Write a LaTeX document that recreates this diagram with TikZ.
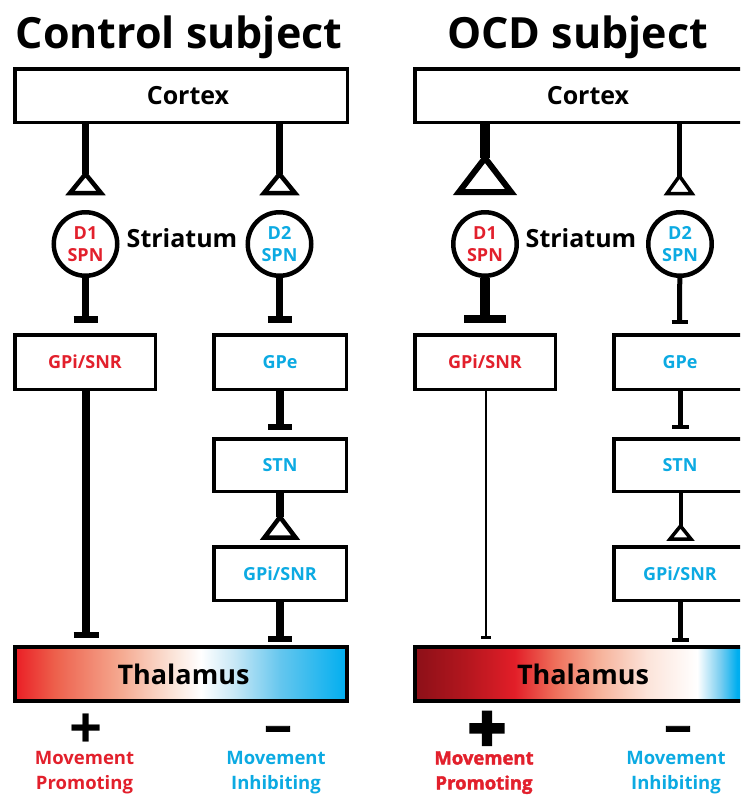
\documentclass[tikz,border=0pt]{standalone}
\usepackage{fontspec}
\setmainfont{Open Sans}
\newfontfamily\heavyfont[FakeBold=2]{Open Sans}
\newfontfamily\heavierfont[FakeBold=5]{Open Sans}
\definecolor{myred}{RGB}{226,32,44}
\definecolor{myblue}{RGB}{12,170,226}
\definecolor{lA}{RGB}{234,30,37}
\definecolor{lB}{RGB}{237,96,76}
\definecolor{lC}{RGB}{245,170,145}
\definecolor{lD}{RGB}{251,226,214}
\definecolor{lE}{RGB}{200,232,246}
\definecolor{lF}{RGB}{100,198,238}
\definecolor{lG}{RGB}{0,174,239}
\definecolor{rA}{RGB}{140,16,24}
\definecolor{rB}{RGB}{178,22,30}
\definecolor{rC}{RGB}{226,30,40}
\definecolor{rD}{RGB}{238,110,90}
\definecolor{rE}{RGB}{246,176,152}
\definecolor{rF}{RGB}{252,228,218}
\definecolor{rG}{RGB}{120,205,240}
\pgfdeclarehorizontalshading{thalLsh}{100bp}{color(0bp)=(lA); color(25bp)=(lA); color(31bp)=(lB); color(41bp)=(lC); color(48.5bp)=(lD); color(53bp)=(white); color(58bp)=(lE); color(65bp)=(lF); color(75bp)=(lG); color(100bp)=(lG)}
\pgfdeclarehorizontalshading{thalRsh}{100bp}{color(0bp)=(rA); color(25bp)=(rA); color(32.5bp)=(rB); color(40bp)=(rC); color(46bp)=(rD); color(52.5bp)=(rE); color(60bp)=(rF); color(67.5bp)=(white); color(71bp)=(rG); color(73.5bp)=(lG); color(100bp)=(lG)}
\begin{document}
\begin{tikzpicture}[x=1pt,y=-1pt,
  every node/.style={inner sep=0pt},
  title/.style={font=\bfseries\fontsize{43}{50}\selectfont},
  box/.style={draw, line width=3.5pt, text height=13pt, text depth=0pt, font=\bfseries\fontsize{18}{22}\selectfont},
  bigbox/.style={draw, line width=3.5pt, minimum width=332.5pt, minimum height=53.5pt, text height=18pt, text depth=0pt, font=\bfseries\fontsize{25}{30}\selectfont},
  circ/.style={draw, circle, line width=4.5pt, minimum size=63.5pt, align=center, font=\bfseries\fontsize{18}{22}\selectfont},
  stri/.style={font=\bfseries\fontsize{25}{30}\selectfont, anchor=base},
  thal/.style={draw, line width=4pt, shade, minimum width=332pt, minimum height=54pt, text height=20pt, text depth=0pt, font=\bfseries\fontsize{27}{30}\selectfont},
  lab/.style={align=center, anchor=base, font=\bfseries\fontsize{18.5}{25}\selectfont},
  labh/.style={align=center, anchor=base, font=\heavyfont\bfseries\fontsize{18.5}{25}\selectfont},
  tri/.style={draw, fill=white, line join=miter},
]
\useasboundingbox (0,0) rectangle (740,798);
\clip (0,0) rectangle (740,798);
% ---------------- titles
\node[title, anchor=base] (titleL) at (179,48) {Control subject};
\node[title, anchor=base] (titleR) at (577.5,48) {OCD subject};
% ================= LEFT PANEL
\node[bigbox] (cortexL) at (181,95.5) {\hspace*{14pt}Cortex};
\node[circ, text=myred] (d1L) at (85.5,244) {D1\\SPN};
\node[circ, text=myblue] (d2L) at (279.5,244) {D2\\SPN};
\node[stri] (striL) at (182,247) {Striatum};
\node[box, minimum width=140.5pt, minimum height=54.5pt, text=myred] (gpiL) at (85,362) {GPi/SNR};
\node[box, minimum width=132.5pt, minimum height=54.5pt, text=myblue] (gpeL) at (280,362) {GPe};
\node[box, minimum width=132.5pt, minimum height=52.5pt, text=myblue] (stnL) at (280,465) {STN};
\node[box, minimum width=132.5pt, minimum height=53.5pt, text=myblue] (gpiiL) at (280,573.5) {GPi/SNR};
\node[thal, shading=thalLsh] (thalL) at (181,674) {\hspace*{5pt}Thalamus};
% connectors left
\coordinate (apL1) at (85.5,174);
\coordinate (apL2) at (279.5,174);
\draw[line width=7.5pt] (cortexL.south -| apL1) -- (apL1);
\draw[line width=7.5pt] (cortexL.south -| apL2) -- (apL2);
\draw[tri, line width=4.5pt] (apL1) -- ++(-15.5,19) -- ++(31,0) -- cycle;
\draw[tri, line width=4.5pt] (apL2) -- ++(-15.5,19) -- ++(31,0) -- cycle;
\coordinate (tL1) at (85.5,319);
\coordinate (tL2) at (279.5,319);
\draw[line width=7.5pt] (d1L) -- (tL1);
\draw[line width=7.5pt] (d2L) -- (tL2);
\draw[line width=7pt] ([xshift=-12pt]tL1) -- ([xshift=12pt]tL1);
\draw[line width=7pt] ([xshift=-12pt]tL2) -- ([xshift=12pt]tL2);
\coordinate (tL3) at (86,635);
\draw[line width=7.5pt] (gpiL.south -| tL3) -- (tL3);
\draw[line width=6pt] ([xshift=-12.5pt]tL3) -- ([xshift=12.5pt]tL3);
\coordinate (tL4) at (280,426.5);
\draw[line width=7.5pt] (gpeL.south -| tL4) -- (tL4);
\draw[line width=6pt] ([xshift=-12pt]tL4) -- ([xshift=12pt]tL4);
\coordinate (apL3) at (280,517);
\draw[line width=7.5pt] (stnL.south -| apL3) -- (apL3);
\draw[tri, line width=4.5pt] (apL3) -- ++(-15.5,20.5) -- ++(31,0) -- cycle;
\coordinate (tL5) at (280,639);
\draw[line width=7.5pt] (gpiiL.south -| tL5) -- (tL5);
\draw[line width=6pt] ([xshift=-12pt]tL5) -- ([xshift=12pt]tL5);
% bottom left
\node[font=\bfseries\fontsize{58}{58}\selectfont] (plusL) at (86,731) {+};
\node[font=\heavyfont\bfseries\fontsize{48}{48}\selectfont] (minusL) at (278,736) {−};
\node[lab, text=myred] (mpL) at (84.5,789.5) {Movement\\Promoting};
\node[lab, text=myblue] (miL) at (276,789.5) {Movement\\Inhibiting};
% ================= RIGHT PANEL
\node[bigbox] (cortexR) at (581,95.5) {\hspace*{14pt}Cortex};
\node[circ, text=myred] (d1R) at (485,244) {D1\\SPN};
\node[circ, text=myblue] (d2R) at (680,244) {D2\\SPN};
\node[stri] (striR) at (581,247) {Striatum};
\node[box, minimum width=140.5pt, minimum height=54.5pt, text=myred] (gpiR) at (485,362) {GPi/SNR};
\node[box, minimum width=132.5pt, minimum height=54.5pt, text=myblue] (gpeR) at (680,362) {GPe};
\node[box, minimum width=132.5pt, minimum height=52.5pt, text=myblue] (stnR) at (680,465) {STN};
\node[box, minimum width=132.5pt, minimum height=53.5pt, text=myblue] (gpiiR) at (680,573.5) {GPi/SNR};
\node[thal, shading=thalRsh] (thalR) at (581,674) {\hspace*{4pt}Thalamus};
% connectors right
\coordinate (apR1) at (485,158);
\coordinate (apR2) at (679.5,176);
\draw[line width=10pt] (cortexR.south -| apR1) -- (apR1);
\draw[line width=5pt] (cortexR.south -| apR2) -- (apR2);
\draw[tri, line width=6pt] (apR1) -- ++(-26,34) -- ++(52,0) -- cycle;
\draw[tri, line width=3.5pt] (apR2) -- ++(-12.5,17.5) -- ++(25,0) -- cycle;
\coordinate (tR1) at (485,319);
\coordinate (tR2) at (679.5,322);
\draw[line width=10pt] (d1R) -- (tR1);
\draw[line width=5pt] (d2R) -- (tR2);
\draw[line width=8pt] ([xshift=-21pt]tR1) -- ([xshift=21pt]tR1);
\draw[line width=4pt] ([xshift=-8pt]tR2) -- ([xshift=8pt]tR2);
\coordinate (tR3) at (486,637.5);
\draw[line width=2pt] (gpiR.south -| tR3) -- (tR3);
\draw[line width=2.5pt] ([xshift=-5pt]tR3) -- ([xshift=5pt]tR3);
\coordinate (tR4) at (680.5,427);
\draw[line width=5.5pt] (gpeR.south -| tR4) -- (tR4);
\draw[line width=4pt] ([xshift=-8.5pt]tR4) -- ([xshift=8.5pt]tR4);
\coordinate (apR3) at (680.5,526);
\draw[line width=4pt] (stnR.south -| apR3) -- (apR3);
\draw[tri, line width=3.5pt] (apR3) -- ++(-10.5,13) -- ++(21,0) -- cycle;
\coordinate (tR5) at (680.5,640);
\draw[line width=5.5pt] (gpiiR.south -| tR5) -- (tR5);
\draw[line width=4pt] ([xshift=-8.5pt]tR5) -- ([xshift=8.5pt]tR5);
% bottom right
\node[font=\heavierfont\bfseries\fontsize{66}{66}\selectfont] (plusR) at (487,732) {+};
\node[font=\heavyfont\bfseries\fontsize{48}{48}\selectfont] (minusR) at (678,736) {−};
\node[labh, text=myred] (mpR) at (484,789.5) {Movement\\Promoting};
\node[lab, text=myblue] (miR) at (676,789.5) {Movement\\Inhibiting};
\end{tikzpicture}
\end{document}
